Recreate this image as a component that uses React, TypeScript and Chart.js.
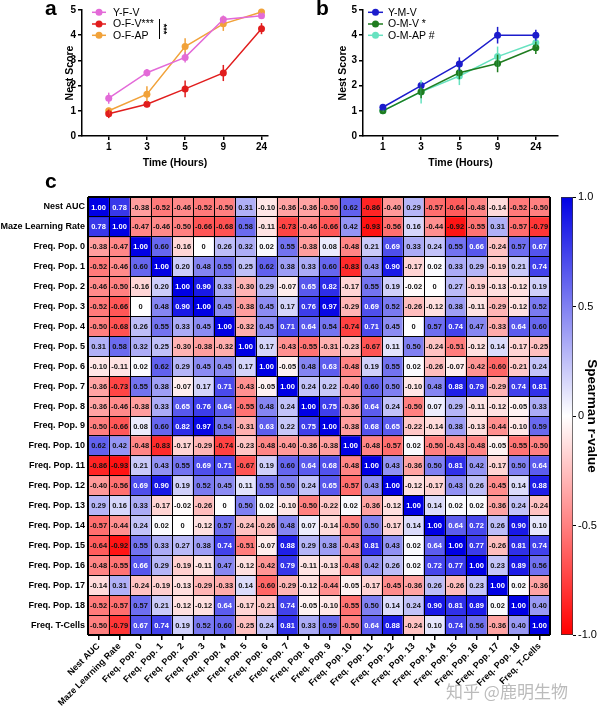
import React, { useEffect, useRef } from 'react';
import { Chart, registerables } from 'chart.js';

Chart.register(...registerables);

const FONT = "'Liberation Sans', Arial, Helvetica, sans-serif";

// ---------- Panels a / b ----------
const timeLabels = ['1', '3', '5', '9', '24'];
const nestTicks = [0, 1, 2, 3, 4, 5];

const yfvMean = [1.5, 2.51, 3.12, 4.62, 4.77];
const yfvErr = [0.22, 0.15, 0.2, 0.16, 0.1];
const ofvMean = [0.88, 1.26, 1.87, 2.5, 4.26];
const ofvErr = [0.17, 0.12, 0.33, 0.32, 0.22];
const ofapMean = [1.0, 1.66, 3.55, 4.45, 4.92];
const ofapErr = [0.12, 0.31, 0.33, 0.28, 0.09];

const ymvMean = [1.14, 2.0, 2.86, 4.0, 4.0];
const ymvErr = [0.12, 0.08, 0.26, 0.33, 0.22];
const omvMean = [1.0, 1.76, 2.51, 2.88, 3.5];
const omvErr = [0.05, 0.26, 0.26, 0.35, 0.25];
const omapMean = [1.0, 1.75, 2.38, 3.15, 3.7];
const omapErr = [0.05, 0.46, 0.36, 0.4, 0.17];

// ---------- Panel c ----------
const rowLabels = [
  'Nest AUC', 'Maze Learning Rate',
  'Freq. Pop. 0', 'Freq. Pop. 1', 'Freq. Pop. 2', 'Freq. Pop. 3', 'Freq. Pop. 4',
  'Freq. Pop. 5', 'Freq. Pop. 6', 'Freq. Pop. 7', 'Freq. Pop. 8', 'Freq. Pop. 9',
  'Freq. Pop. 10', 'Freq. Pop. 11', 'Freq. Pop. 12', 'Freq. Pop. 13', 'Freq. Pop. 14',
  'Freq. Pop. 15', 'Freq. Pop. 16', 'Freq. Pop. 17', 'Freq. Pop. 18', 'Freq. T-Cells',
];
const colLabels = rowLabels;

const corrMatrix = [
  [1.00, 0.78, -0.38, -0.52, -0.46, -0.52, -0.50, 0.31, -0.10, -0.36, -0.36, -0.50, 0.62, -0.86, -0.40, 0.29, -0.57, -0.64, -0.48, -0.14, -0.52, -0.50],
  [0.78, 1.00, -0.47, -0.46, -0.50, -0.66, -0.68, 0.58, -0.11, -0.73, -0.46, -0.66, 0.42, -0.93, -0.56, 0.16, -0.44, -0.92, -0.55, 0.31, -0.57, -0.79],
  [-0.38, -0.47, 1.00, 0.60, -0.16, 0, 0.26, 0.32, 0.02, 0.55, -0.38, 0.08, -0.48, 0.21, 0.69, 0.33, 0.24, 0.55, 0.66, -0.24, 0.57, 0.67],
  [-0.52, -0.46, 0.60, 1.00, 0.20, 0.48, 0.55, 0.25, 0.62, 0.38, 0.33, 0.60, -0.83, 0.43, 0.90, -0.17, 0.02, 0.33, 0.29, -0.19, 0.21, 0.74],
  [-0.46, -0.50, -0.16, 0.20, 1.00, 0.90, 0.33, -0.30, 0.29, -0.07, 0.65, 0.82, -0.17, 0.55, 0.19, -0.02, 0, 0.27, -0.19, -0.13, -0.12, 0.19],
  [-0.52, -0.66, 0, 0.48, 0.90, 1.00, 0.45, -0.38, 0.45, 0.17, 0.76, 0.97, -0.29, 0.69, 0.52, -0.26, -0.12, 0.38, -0.11, -0.29, -0.12, 0.52],
  [-0.50, -0.68, 0.26, 0.55, 0.33, 0.45, 1.00, -0.32, 0.45, 0.71, 0.64, 0.54, -0.74, 0.71, 0.45, 0, 0.57, 0.74, 0.47, -0.33, 0.64, 0.60],
  [0.31, 0.58, 0.32, 0.25, -0.30, -0.38, -0.32, 1.00, 0.17, -0.43, -0.55, -0.31, -0.23, -0.67, 0.11, 0.50, -0.24, -0.51, -0.12, 0.14, -0.17, -0.25],
  [-0.10, -0.11, 0.02, 0.62, 0.29, 0.45, 0.45, 0.17, 1.00, -0.05, 0.48, 0.63, -0.48, 0.19, 0.55, 0.02, -0.26, -0.07, -0.42, -0.60, -0.21, 0.24],
  [-0.36, -0.73, 0.55, 0.38, -0.07, 0.17, 0.71, -0.43, -0.05, 1.00, 0.24, 0.22, -0.40, 0.60, 0.50, -0.10, 0.48, 0.88, 0.79, -0.29, 0.74, 0.81],
  [-0.36, -0.46, -0.38, 0.33, 0.65, 0.76, 0.64, -0.55, 0.48, 0.24, 1.00, 0.75, -0.36, 0.64, 0.24, -0.50, 0.07, 0.29, -0.11, -0.12, -0.05, 0.33],
  [-0.50, -0.66, 0.08, 0.60, 0.82, 0.97, 0.54, -0.31, 0.63, 0.22, 0.75, 1.00, -0.38, 0.68, 0.65, -0.22, -0.14, 0.38, -0.13, -0.44, -0.10, 0.59],
  [0.62, 0.42, -0.48, -0.83, -0.17, -0.29, -0.74, -0.23, -0.48, -0.40, -0.36, -0.38, 1.00, -0.48, -0.57, 0.02, -0.50, -0.43, -0.48, -0.05, -0.55, -0.50],
  [-0.86, -0.93, 0.21, 0.43, 0.55, 0.69, 0.71, -0.67, 0.19, 0.60, 0.64, 0.68, -0.48, 1.00, 0.43, -0.36, 0.50, 0.81, 0.42, -0.17, 0.50, 0.64],
  [-0.40, -0.56, 0.69, 0.90, 0.19, 0.52, 0.45, 0.11, 0.55, 0.50, 0.24, 0.65, -0.57, 0.43, 1.00, -0.12, -0.17, 0.43, 0.26, -0.45, 0.14, 0.88],
  [0.29, 0.16, 0.33, -0.17, -0.02, -0.26, 0, 0.50, 0.02, -0.10, -0.50, -0.22, 0.02, -0.36, -0.12, 1.00, 0.14, 0.02, 0.02, -0.36, 0.24, -0.24],
  [-0.57, -0.44, 0.24, 0.02, 0, -0.12, 0.57, -0.24, -0.26, 0.48, 0.07, -0.14, -0.50, 0.50, -0.17, 0.14, 1.00, 0.64, 0.72, 0.26, 0.90, 0.10],
  [-0.64, -0.92, 0.55, 0.33, 0.27, 0.38, 0.74, -0.51, -0.07, 0.88, 0.29, 0.38, -0.43, 0.81, 0.43, 0.02, 0.64, 1.00, 0.77, -0.26, 0.81, 0.74],
  [-0.48, -0.55, 0.66, 0.29, -0.19, -0.11, 0.47, -0.12, -0.42, 0.79, -0.11, -0.13, -0.48, 0.42, 0.26, 0.02, 0.72, 0.77, 1.00, 0.23, 0.89, 0.56],
  [-0.14, 0.31, -0.24, -0.19, -0.13, -0.29, -0.33, 0.14, -0.60, -0.29, -0.12, -0.44, -0.05, -0.17, -0.45, -0.36, 0.26, -0.26, 0.23, 1.00, 0.02, -0.36],
  [-0.52, -0.57, 0.57, 0.21, -0.12, -0.12, 0.64, -0.17, -0.21, 0.74, -0.05, -0.10, -0.55, 0.50, 0.14, 0.24, 0.90, 0.81, 0.89, 0.02, 1.00, 0.40],
  [-0.50, -0.79, 0.67, 0.74, 0.19, 0.52, 0.60, -0.25, 0.24, 0.81, 0.33, 0.59, -0.50, 0.64, 0.88, -0.24, 0.10, 0.74, 0.56, -0.36, 0.40, 1.00],
];

const cbTickValues = [1, 0.5, 0, -0.5, -1];
const cbTickLabels = ['1.0', '0.5', '0', '-0.5', '-1.0'];

// ---------- helpers ----------
function cellColor(v: number): string {
  if (v >= 0) {
    const t = Math.min(1, v);
    const r = Math.round(255 * (1 - t));
    const b = Math.round(255 * (1 - t) + 228 * t);
    return `rgb(${r},${r},${b})`;
  }
  const t = Math.min(1, -v);
  const g = Math.round(255 * (1 - t));
  return `rgb(255,${g},${g})`;
}

function fmt(v: number): string {
  return v === 0 ? '0' : v.toFixed(2);
}

function zeroPad(s: any) {
  s.paddingTop = 0;
  s.paddingBottom = 0;
  s.paddingLeft = 0;
  s.paddingRight = 0;
}

type Series = { label: string; color: string; mean: number[]; err: number[] };

const seriesA: Series[] = [
  { label: 'Y-F-V', color: '#e36ad8', mean: yfvMean, err: yfvErr },
  { label: 'O-F-V***', color: '#e11d1d', mean: ofvMean, err: ofvErr },
  { label: 'O-F-AP', color: '#f1a23a', mean: ofapMean, err: ofapErr },
];
const seriesB: Series[] = [
  { label: 'Y-M-V', color: '#1c1ccc', mean: ymvMean, err: ymvErr },
  { label: 'O-M-V *', color: '#1f7c1f', mean: omvMean, err: omvErr },
  { label: 'O-M-AP #', color: '#66e2c0', mean: omapMean, err: omapErr },
];

const errorBarPlugin = {
  id: 'errorBars',
  afterDatasetsDraw(chart: any) {
    const ctx = chart.ctx;
    const xs = chart.scales.x;
    const ys = chart.scales.y;
    const sets = chart.data.datasets;
    for (let d = sets.length - 1; d >= 0; d--) {
      const ds = sets[d];
      ctx.save();
      ctx.strokeStyle = ds.borderColor;
      ctx.lineWidth = 1.5;
      ds.data.forEach((pt: any, i: number) => {
        const x = xs.getPixelForValue(pt.x);
        ctx.beginPath();
        ctx.moveTo(x, ys.getPixelForValue(pt.y - ds.errors[i]));
        ctx.lineTo(x, ys.getPixelForValue(pt.y + ds.errors[i]));
        ctx.stroke();
      });
      ctx.restore();
    }
  },
};

function legendPlugin(series: Series[], lx0: number, lx1: number, tx: number, bracket: boolean) {
  const rows = [12.3, 24, 35.3];
  return {
    id: 'customLegend',
    afterDraw(chart: any) {
      const ctx = chart.ctx;
      ctx.save();
      series.forEach((s, i) => {
        const y = rows[i];
        ctx.strokeStyle = s.color;
        ctx.lineWidth = 1.5;
        ctx.beginPath();
        ctx.moveTo(lx0, y);
        ctx.lineTo(lx1, y);
        ctx.stroke();
        ctx.fillStyle = s.color;
        ctx.beginPath();
        ctx.arc((lx0 + lx1) / 2, y, 3.5, 0, Math.PI * 2);
        ctx.fill();
        ctx.fillStyle = '#000';
        ctx.font = `10.5px ${FONT}`;
        ctx.textAlign = 'left';
        ctx.textBaseline = 'middle';
        ctx.fillText(s.label, tx, y + 0.5);
      });
      if (bracket) {
        ctx.strokeStyle = '#000';
        ctx.lineWidth = 1;
        ctx.beginPath();
        ctx.moveTo(159.5, 19);
        ctx.lineTo(159.5, 39);
        ctx.stroke();
        ctx.translate(163, 29);
        ctx.rotate(Math.PI / 2);
        ctx.fillStyle = '#000';
        ctx.font = `bold 9px ${FONT}`;
        ctx.textAlign = 'center';
        ctx.textBaseline = 'middle';
        ctx.fillText('***', 0, 0);
      }
      ctx.restore();
    },
  };
}

function lineConfig(series: Series[], p: any): any {
  const axisGrid = { drawOnChartArea: false, drawTicks: true, tickLength: 4, color: '#000', lineWidth: 1.5 };
  const axisBorder = { color: '#000', width: 1.5 };
  return {
    type: 'line',
    data: {
      datasets: series.map((s) => ({
        label: s.label,
        data: s.mean.map((m, i) => ({ x: i, y: m })),
        errors: s.err,
        borderColor: s.color,
        backgroundColor: s.color,
        pointBackgroundColor: s.color,
        pointBorderColor: s.color,
        pointRadius: 3.5,
        pointBorderWidth: 0,
        borderWidth: 1.5,
        tension: 0,
        clip: false,
      })),
    },
    options: {
      animation: false,
      responsive: false,
      events: [],
      layout: { padding: { top: 10, right: p.padRight, left: 0, bottom: 0 } },
      plugins: { legend: { display: false }, tooltip: { enabled: false } },
      scales: {
        x: {
          type: 'linear',
          min: p.xMin,
          max: p.xMax,
          afterBuildTicks: (s: any) => {
            s.ticks = timeLabels.map((_, i) => ({ value: i }));
          },
          ticks: {
            callback: (v: number) => timeLabels[v],
            font: { weight: 'bold', size: 10 },
            color: '#000',
            padding: 1,
          },
          grid: axisGrid,
          border: axisBorder,
          title: {
            display: true,
            text: 'Time (Hours)',
            color: '#000',
            font: { weight: 'bold', size: 10.5 },
            padding: { top: 0, bottom: 6 },
          },
          afterFit: (s: any) => {
            s.height = 39;
            zeroPad(s);
          },
        },
        y: {
          type: 'linear',
          min: 0,
          max: 5,
          afterBuildTicks: (s: any) => {
            s.ticks = nestTicks.map((v) => ({ value: v }));
          },
          ticks: { font: { weight: 'bold', size: 10 }, color: '#000', padding: 2 },
          grid: axisGrid,
          border: axisBorder,
          title: {
            display: true,
            text: 'Nest Score',
            color: '#000',
            font: { weight: 'bold', size: 10.5 },
            padding: { top: p.titlePad, bottom: 0 },
          },
          afterFit: (s: any) => {
            s.width = p.yW;
            zeroPad(s);
          },
        },
      },
    },
    plugins: [errorBarPlugin, legendPlugin(series, p.lx0, p.lx1, p.tx, p.bracket)],
  };
}

const N = rowLabels.length;

const cellTextPlugin = {
  id: 'cellText',
  afterDatasetsDraw(chart: any) {
    const ctx = chart.ctx;
    ctx.save();
    ctx.font = `bold 7.5px ${FONT}`;
    ctx.textAlign = 'center';
    ctx.textBaseline = 'middle';
    corrMatrix.forEach((row, i) => {
      const meta = chart.getDatasetMeta(i);
      row.forEach((v, j) => {
        const el = meta.data[j];
        if (!el) return;
        const cx = el.x;
        const cy = (el.y + el.base) / 2;
        ctx.fillStyle = v >= 0.63 ? '#ffffff' : '#111111';
        ctx.fillText(fmt(v), cx, cy + 0.5);
      });
    });
    ctx.restore();
  },
};

function heatmapConfig(): any {
  const edgeW = (c: any) => (c.type !== 'tick' || c.index === 0 || c.index === N ? 2 : 1);
  return {
    type: 'bar',
    data: {
      labels: colLabels,
      datasets: corrMatrix.map((row, i) => ({
        label: rowLabels[i],
        data: colLabels.map(() => [i, i + 1]),
        backgroundColor: row.map(cellColor),
        borderWidth: 0,
        barPercentage: 1,
        categoryPercentage: 1,
        grouped: false,
        xAxisID: 'x',
        yAxisID: 'y',
      })),
    },
    options: {
      animation: false,
      responsive: false,
      events: [],
      layout: { padding: { top: 7, right: 5, left: 0, bottom: 0 } },
      plugins: { legend: { display: false }, tooltip: { enabled: false } },
      scales: {
        x: {
          type: 'category',
          position: 'bottom',
          weight: 0,
          offset: true,
          grid: { offset: true, color: '#000', z: 1, drawTicks: false, lineWidth: edgeW },
          ticks: { display: false },
          border: { display: false },
          afterFit: (s: any) => {
            s.height = 0;
            zeroPad(s);
          },
        },
        xt: {
          type: 'category',
          position: 'bottom',
          weight: 1,
          labels: colLabels,
          offset: true,
          grid: { offset: false, drawOnChartArea: false, drawTicks: true, tickLength: 5, color: '#000', lineWidth: 1.5 },
          border: { display: false },
          ticks: {
            autoSkip: false,
            minRotation: 45,
            maxRotation: 45,
            color: '#000',
            font: { weight: 'bold', size: 9 },
            padding: 1,
          },
          afterFit: (s: any) => {
            s.height = 78;
            zeroPad(s);
          },
        },
        y: {
          type: 'linear',
          position: 'left',
          weight: 0,
          min: 0,
          max: N,
          reverse: true,
          afterBuildTicks: (s: any) => {
            s.ticks = Array.from({ length: N + 1 }, (_, k) => ({ value: k }));
          },
          ticks: { display: false },
          grid: { color: '#000', z: 1, drawTicks: false, lineWidth: edgeW },
          border: { display: false },
          afterFit: (s: any) => {
            s.width = 0;
            zeroPad(s);
          },
        },
        yl: {
          type: 'category',
          position: 'left',
          weight: 1,
          labels: rowLabels,
          offset: true,
          grid: { display: false, drawTicks: false },
          border: { display: false },
          ticks: { autoSkip: false, color: '#000', font: { weight: 'bold', size: 9 }, padding: 3 },
          afterFit: (s: any) => {
            s.width = 88;
            zeroPad(s);
          },
        },
      },
    },
    plugins: [cellTextPlugin],
  };
}

function colorbarConfig(): any {
  return {
    type: 'bar',
    data: {
      labels: [''],
      datasets: [
        {
          data: [[-1, 1]],
          backgroundColor: (c: any) => {
            const chart = c.chart;
            const ys = chart.scales.y;
            if (!chart.chartArea || !ys) return '#fff';
            const y0 = ys.getPixelForValue(-1);
            const y1 = ys.getPixelForValue(1);
            const g = chart.ctx.createLinearGradient(0, y0, 0, y1);
            for (let k = 0; k <= 20; k++) {
              const v = -1 + k / 10;
              g.addColorStop(k / 20, cellColor(v));
            }
            return g;
          },
          borderColor: '#333',
          borderWidth: 1,
          borderSkipped: false,
          barPercentage: 1,
          categoryPercentage: 1,
        },
      ],
    },
    options: {
      animation: false,
      responsive: false,
      events: [],
      layout: { padding: { top: 7, bottom: 78, left: 6, right: 0 } },
      plugins: { legend: { display: false }, tooltip: { enabled: false } },
      scales: {
        x: { display: false },
        y: {
          position: 'right',
          min: -1,
          max: 1,
          afterBuildTicks: (s: any) => {
            s.ticks = cbTickValues.map((v) => ({ value: v }));
          },
          ticks: {
            callback: (v: number) => cbTickLabels[cbTickValues.indexOf(v)],
            color: '#000',
            font: { size: 11 },
            padding: 2,
          },
          grid: { drawOnChartArea: false, drawTicks: true, tickLength: 3, color: '#000', lineWidth: 1 },
          border: { display: false },
          title: {
            display: true,
            text: 'Spearman r-value',
            color: '#000',
            font: { weight: 'bold', size: 13.5 },
            padding: { top: 0, bottom: 0 },
          },
          afterFit: (s: any) => {
            s.width = 27;
            zeroPad(s);
          },
        },
      },
    },
  };
}

const letterStyle: React.CSSProperties = {
  position: 'absolute',
  font: `bold 21px ${FONT}`,
  lineHeight: '21px',
  color: '#000',
};

export default function App() {
  const aRef = useRef<HTMLCanvasElement>(null);
  const bRef = useRef<HTMLCanvasElement>(null);
  const hRef = useRef<HTMLCanvasElement>(null);
  const cbRef = useRef<HTMLCanvasElement>(null);

  useEffect(() => {
    Chart.defaults.font.family = FONT;
    Chart.defaults.color = '#000';
    const charts = [
      new Chart(aRef.current as HTMLCanvasElement, lineConfig(seriesA, {
        xMin: -0.7, xMax: 4.17, yW: 82, padRight: 32, titlePad: 63.5,
        lx0: 92, lx1: 106, tx: 113, bracket: true,
      })),
      new Chart(bRef.current as HTMLCanvasElement, lineConfig(seriesB, {
        xMin: -0.52, xMax: 4.58, yW: 63, padRight: 42, titlePad: 36.5,
        lx0: 68, lx1: 83, tx: 88, bracket: false,
      })),
      new Chart(hRef.current as HTMLCanvasElement, heatmapConfig()),
      new Chart(cbRef.current as HTMLCanvasElement, colorbarConfig()),
    ];
    return () => charts.forEach((c) => c.destroy());
  }, []);

  return (
    <div style={{ position: 'absolute', left: 0, top: 0, width: 600, height: 713, background: '#fff', overflow: 'hidden', fontFamily: FONT }}>
      <canvas ref={aRef} width={300} height={175} style={{ position: 'absolute', left: 0, top: 0 }} />
      <canvas ref={bRef} width={300} height={175} style={{ position: 'absolute', left: 300, top: 0 }} />
      <canvas ref={hRef} width={555} height={523} style={{ position: 'absolute', left: 0, top: 190 }} />
      <canvas ref={cbRef} width={45} height={523} style={{ position: 'absolute', left: 555, top: 190 }} />
      <div style={{ ...letterStyle, left: 45, top: -3 }}>a</div>
      <div style={{ ...letterStyle, left: 316, top: -3 }}>b</div>
      <div style={{ ...letterStyle, left: 45, top: 170 }}>c</div>
      <div style={{ position: 'absolute', left: 446, top: 678, font: `17px 'Noto Sans CJK SC', sans-serif`, color: 'rgba(175,175,175,0.85)', whiteSpace: 'nowrap' }}>知乎 @鹿明生物</div>
    </div>
  );
}
